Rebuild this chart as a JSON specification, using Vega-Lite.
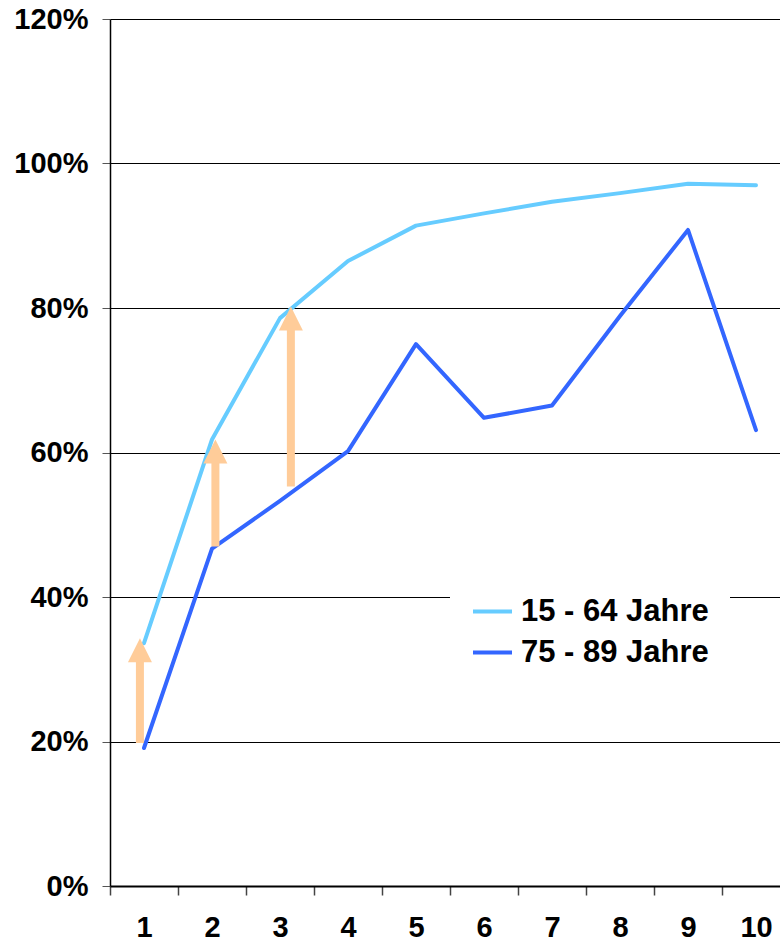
{
  "$schema": "https://vega.github.io/schema/vega-lite/v6.json",
  "width": 680,
  "height": 867,
  "autosize": "none",
  "padding": {"left": 110, "top": 19, "right": 0, "bottom": 57},
  "background": "white",
  "config": {"view": {"stroke": null}, "font": "Liberation Sans"},
  "datasets": {
    "lines": [
      {"x": 1, "value": 33.6, "series": "15 - 64 Jahre"},
      {"x": 2, "value": 61.8, "series": "15 - 64 Jahre"},
      {"x": 3, "value": 78.6, "series": "15 - 64 Jahre"},
      {"x": 4, "value": 86.5, "series": "15 - 64 Jahre"},
      {"x": 5, "value": 91.4, "series": "15 - 64 Jahre"},
      {"x": 6, "value": 93.1, "series": "15 - 64 Jahre"},
      {"x": 7, "value": 94.7, "series": "15 - 64 Jahre"},
      {"x": 8, "value": 95.9, "series": "15 - 64 Jahre"},
      {"x": 9, "value": 97.2, "series": "15 - 64 Jahre"},
      {"x": 10, "value": 97.0, "series": "15 - 64 Jahre"},
      {"x": 1, "value": 19.1, "series": "75 - 89 Jahre"},
      {"x": 2, "value": 46.7, "series": "75 - 89 Jahre"},
      {"x": 3, "value": 53.3, "series": "75 - 89 Jahre"},
      {"x": 4, "value": 60.2, "series": "75 - 89 Jahre"},
      {"x": 5, "value": 75.0, "series": "75 - 89 Jahre"},
      {"x": 6, "value": 64.8, "series": "75 - 89 Jahre"},
      {"x": 7, "value": 66.5, "series": "75 - 89 Jahre"},
      {"x": 8, "value": 78.9, "series": "75 - 89 Jahre"},
      {"x": 9, "value": 90.8, "series": "75 - 89 Jahre"},
      {"x": 10, "value": 63.1, "series": "75 - 89 Jahre"}
    ],
    "arrows": [
      {"x": 0.94, "start": 19.8, "shaftTop": 31.8, "tip": 34.3},
      {"x": 2.05, "start": 47.0, "shaftTop": 59.3, "tip": 61.8},
      {"x": 3.16, "start": 55.3, "shaftTop": 77.7, "tip": 80.2}
    ]
  },
  "layer": [
    {
      "data": {"name": "lines"},
      "mark": {"type": "line", "strokeWidth": 4, "strokeCap": "round", "strokeJoin": "round"},
      "encoding": {
        "x": {
          "field": "x",
          "type": "quantitative",
          "scale": {"domain": [0.5, 10.5], "nice": false, "zero": false},
          "axis": {
            "values": [1, 2, 3, 4, 5, 6, 7, 8, 9, 10],
            "format": "d",
            "tickOffset": -34,
            "labelOffset": 34,
            "tickColor": "#444444",
            "tickSize": 9,
            "tickWidth": 1.5,
            "domainColor": "black",
            "domainWidth": 2,
            "labelFontSize": 29,
            "labelFontWeight": "bold",
            "labelColor": "black",
            "labelPadding": 18,
            "labelFlush": false,
            "labelOverlap": false,
            "grid": false,
            "title": null
          }
        },
        "y": {
          "field": "value",
          "type": "quantitative",
          "scale": {"domain": [0, 120], "nice": false},
          "axis": {
            "values": [0, 20, 40, 60, 80, 100, 120],
            "labelExpr": "datum.value + '%'",
            "grid": true,
            "gridColor": "black",
            "gridWidth": 1,
            "gridOpacity": 1,
            "tickSize": 8,
            "tickColor": "#555555",
            "domainColor": "black",
            "domainWidth": 1.5,
            "labelFontSize": 29,
            "labelFontWeight": "bold",
            "labelColor": "black",
            "labelPadding": 14,
            "labelFlush": false,
            "labelOverlap": false,
            "title": null
          }
        },
        "color": {
          "field": "series",
          "type": "nominal",
          "scale": {"domain": ["15 - 64 Jahre", "75 - 89 Jahre"], "range": ["#66CCFF", "#3366FF"]},
          "legend": {
            "orient": "none",
            "legendX": 340,
            "legendY": 550,
            "title": null,
            "fillColor": "white",
            "padding": 21,
            "symbolType": "stroke",
            "symbolSize": 1521,
            "symbolStrokeWidth": 4,
            "labelFontSize": 31,
            "labelFontWeight": "bold",
            "labelColor": "black",
            "labelOffset": 7,
            "labelLimit": 400,
            "rowPadding": 4
          }
        }
      }
    },
    {
      "data": {"name": "arrows"},
      "mark": {"type": "rule", "strokeWidth": 8, "color": "#FFCC99"},
      "encoding": {
        "x": {"field": "x", "type": "quantitative"},
        "y": {"field": "start", "type": "quantitative"},
        "y2": {"field": "shaftTop"}
      }
    },
    {
      "data": {"name": "arrows"},
      "mark": {"type": "point", "shape": "M-1,2L1,2L0,0Z", "size": 576, "filled": true, "color": "#FFCC99", "opacity": 1, "strokeWidth": 0},
      "encoding": {
        "x": {"field": "x", "type": "quantitative"},
        "y": {"field": "tip", "type": "quantitative"}
      }
    }
  ]
}
